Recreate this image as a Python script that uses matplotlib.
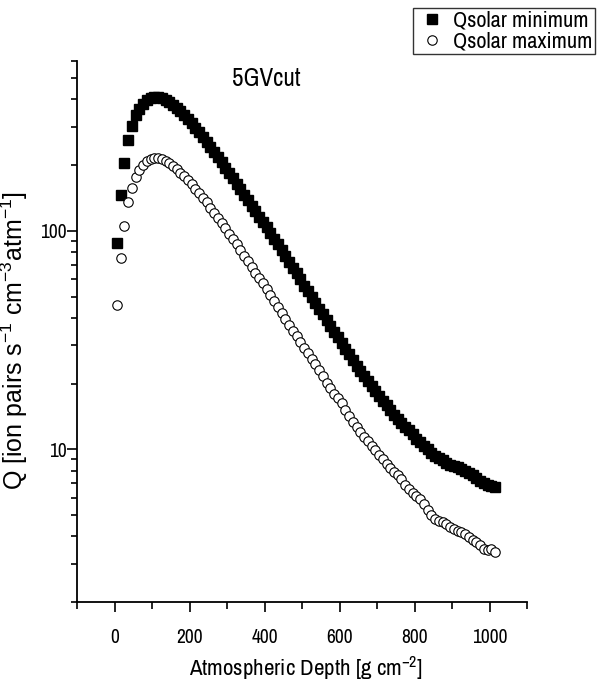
import matplotlib
matplotlib.use("Agg")
import matplotlib.pyplot as plt
from matplotlib.ticker import FixedLocator, NullFormatter, FuncFormatter

narrow = ["Archivo Narrow", "Roboto Condensed", "Liberation Sans", "DejaVu Sans"]
plt.rcParams["font.family"] = narrow
plt.rcParams["mathtext.default"] = "regular"

depth = [5, 15, 25, 35, 45, 55, 65, 75, 85, 95,
         105, 115, 125, 135, 145, 155, 165, 175, 185, 195,
         205, 215, 225, 235, 245, 255, 265, 275, 285, 295,
         305, 315, 325, 335, 345, 355, 365, 375, 385, 395,
         405, 415, 425, 435, 445, 455, 465, 475, 485, 495,
         505, 515, 525, 535, 545, 555, 565, 575, 585, 595,
         605, 615, 625, 635, 645, 655, 665, 675, 685, 695,
         705, 715, 725, 735, 745, 755, 765, 775, 785, 795,
         805, 815, 825, 835, 845, 855, 865, 875, 885, 895,
         905, 915, 925, 935, 945, 955, 965, 975, 985, 995,
         1005, 1015]

q_min = [88, 146, 205, 262, 303, 338, 363, 383, 397, 406,
         410, 410, 405, 398, 389, 378, 366, 353, 339, 325,
         311, 297, 283, 269, 256, 243, 230, 218, 206, 195,
         184, 174, 164, 155, 146, 138, 130, 123, 116, 110,
         104, 98, 92, 87, 82, 77, 72, 68, 64, 60,
         56, 53, 50, 47, 44, 41.5, 39, 36.7, 34.6, 32.6,
         30.7, 28.9, 27.2, 25.6, 24.2, 22.8, 21.6, 20.5, 19.5, 18.5,
         17.6, 16.7, 15.9, 15.1, 14.4, 13.8, 13.2, 12.7, 12.2, 11.7,
         11.2, 10.8, 10.4, 10.0, 9.6, 9.3, 9.1, 8.9, 8.7, 8.5,
         8.4, 8.3, 8.1, 8.0, 7.8, 7.6, 7.4, 7.2, 7.0, 6.9,
         6.8, 6.7]

q_max = [46, 75, 105, 136, 158, 176, 190, 201, 208, 213,
         216, 216, 213, 209, 204, 198, 192, 185, 178, 171,
         164, 156, 149, 142, 135, 128, 121, 115, 109, 103,
         97, 92, 87, 82, 77, 73, 68.5, 64.5, 61, 57.5,
         54, 51, 48, 45, 42, 39.5, 37, 35, 33, 31,
         29.2, 27.5, 26, 24.5, 23, 21.7, 20.2, 19, 17.9, 17.2,
         16.3, 15.2, 14.2, 13.4, 12.6, 12.0, 11.4, 10.9, 10.4, 9.9,
         9.4, 9.0, 8.6, 8.2, 7.9, 7.6, 7.3, 6.9, 6.6, 6.3,
         6.1, 5.9, 5.6, 5.3, 5.0, 4.8, 4.7, 4.65, 4.55, 4.4,
         4.3, 4.25, 4.2, 4.1, 3.95, 3.85, 3.75, 3.65, 3.5, 3.45,
         3.5, 3.4]

x_major = [0, 200, 400, 600, 800, 1000]
x_minor = [-100, 100, 300, 500, 700, 900, 1100]
y_major = [10, 100]
y_minor = [2, 3, 4, 5, 6, 7, 8, 9, 20, 30, 40, 50, 60, 70, 80, 90,
           200, 300, 400, 500, 600]

fig = plt.figure(figsize=(5.97, 6.91), dpi=100)
fig.patch.set_facecolor("white")
ax = fig.add_axes([0.1298, 0.1288, 0.7529, 0.7829])

ax.plot(depth, q_min, linestyle="none", marker="s", markersize=6.8,
        markerfacecolor="black", markeredgecolor="black", label="Qsolar minimum")
ax.plot(depth, q_max, linestyle="none", marker="o", markersize=6.8,
        markerfacecolor="white", markeredgecolor="black", markeredgewidth=0.8,
        label="Qsolar maximum")

ax.set_yscale("log")
ax.set_xlim(-100, 1100)
ax.set_ylim(2, 600)

ax.xaxis.set_major_locator(FixedLocator(x_major))
ax.xaxis.set_minor_locator(FixedLocator(x_minor))
ax.yaxis.set_major_locator(FixedLocator(y_major))
ax.yaxis.set_minor_locator(FixedLocator(y_minor))
ax.yaxis.set_major_formatter(FuncFormatter(lambda v, p: f"{int(v)}"))
ax.yaxis.set_minor_formatter(NullFormatter())

for side in ["top", "right"]:
    ax.spines[side].set_visible(False)
for side in ["left", "bottom"]:
    ax.spines[side].set_linewidth(1.3)

ax.tick_params(axis="x", which="major", direction="out", length=7, width=1.2,
               labelsize=14, pad=12)
ax.tick_params(axis="x", which="minor", direction="out", length=5, width=1.2)
ax.tick_params(axis="y", which="major", direction="out", length=7, width=1.2,
               labelsize=14, pad=1)
ax.tick_params(axis="y", which="minor", direction="out", length=4, width=1.2)

ax.set_xlabel("Atmospheric Depth [g cm$^{-2}$]", fontsize=16.5)
ax.xaxis.set_label_coords(0.508, -0.097)
ax.set_ylabel("Q [ion pairs s$^{-1}$ cm$^{-3}$atm$^{-1}$]", fontsize=18,
              family=["Liberation Sans", "DejaVu Sans"])
ax.yaxis.set_label_coords(-0.105, 0.484)

ax.text(405, 500, "5GVcut", fontsize=18, ha="center", va="center")

leg = fig.legend(loc="upper left", bbox_to_anchor=(413 / 597, 1 - 8 / 691),
                 fontsize=16, frameon=True, fancybox=False, borderpad=0.12,
                 handletextpad=0.2, handlelength=1.5, labelspacing=0.05,
                 borderaxespad=0)
leg.get_frame().set_edgecolor("black")
leg.get_frame().set_linewidth(1.0)

plt.savefig("out.png", dpi=100)
